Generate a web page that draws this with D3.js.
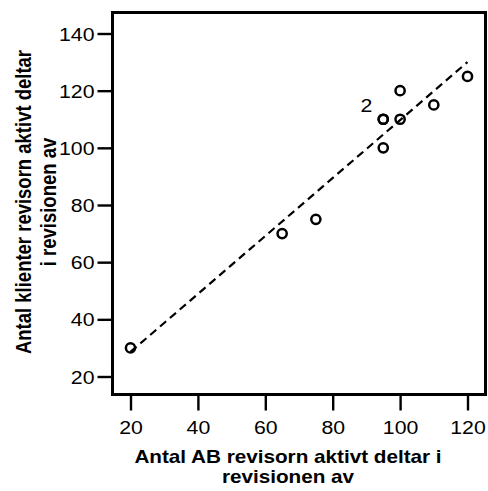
<!DOCTYPE html>
<html>
<head>
<meta charset="utf-8">
<script src="https://cdn.jsdelivr.net/npm/d3@7"></script>
<style>
  body { margin: 0; background: #fff; }
  text { font-family: "Liberation Sans", Arial, sans-serif; fill: #000; }
</style>
</head>
<body>
<div id="chart"></div>
<script>
// data
var abRevisor = [20, 65, 75, 95, 95, 95, 100, 100, 110, 120];
var klienter  = [30, 70, 75, 100, 110, 110, 110, 120, 115, 125];
var fitX = [20, 120];
var fitY = [28.6, 130];
var xTicks = [20, 40, 60, 80, 100, 120];
var yTicks = [20, 40, 60, 80, 100, 120, 140];
// count label for the repeated point
var countLabel = {x: 95, y: 110, text: "2"};

var width = 488, height = 491;
var sx = 1.15; // the original text is a bit wide

var svg = d3.select("#chart")
  .append("svg")
    .attr("width", width)
    .attr("height", height);

var frame = {left: 112.5, right: 485.5, top: 12.5, bottom: 394.5};

var x = d3.scaleLinear()
  .domain([20, 120])
  .range([130.5, 467.5]);

var y = d3.scaleLinear()
  .domain([20, 140])
  .range([376.5, 33.5]);

// x axis
var xAxis = svg.append("g")
  .attr("transform", "translate(0," + frame.bottom + ")")
  .call(d3.axisBottom(x).tickValues(xTicks).tickSize(16).tickPadding(0).tickFormat(d3.format("d")));
xAxis.select(".domain").remove();
xAxis.selectAll("line").attr("stroke", "#000").attr("stroke-width", 2.4);
xAxis.selectAll("text")
  .attr("y", null).attr("dy", null)
  .attr("transform", "translate(0,39) scale(" + sx + ",1)")
  .style("font-size", "18.5px");

// y axis
var yAxis = svg.append("g")
  .attr("transform", "translate(" + frame.left + ",0)")
  .call(d3.axisLeft(y).tickValues(yTicks).tickSize(15).tickPadding(0).tickFormat(d3.format("d")));
yAxis.select(".domain").remove();
yAxis.selectAll("line").attr("stroke", "#000").attr("stroke-width", 2.4);
yAxis.selectAll("text")
  .attr("x", null).attr("dy", null)
  .attr("transform", "translate(-18,6.5) scale(" + sx + ",1)")
  .style("font-size", "18.5px");

// frame
svg.append("rect")
  .attr("x", frame.left)
  .attr("y", frame.top)
  .attr("width", frame.right - frame.left)
  .attr("height", frame.bottom - frame.top)
  .attr("fill", "none")
  .attr("stroke", "#000")
  .attr("stroke-width", 3);

// fit line
svg.append("line")
  .attr("x1", x(fitX[0])).attr("y1", y(fitY[0]))
  .attr("x2", x(fitX[1])).attr("y2", y(fitY[1]))
  .attr("stroke", "#000")
  .attr("stroke-width", 2.2)
  .attr("stroke-dasharray", "8,5");

// points
svg.selectAll("circle.pt")
  .data(abRevisor)
  .enter()
  .append("circle")
    .attr("class", "pt")
    .attr("cx", function(d) { return x(d); })
    .attr("cy", function(d, i) { return y(klienter[i]); })
    .attr("r", 4.6)
    .attr("fill", "none")
    .attr("stroke", "#000")
    .attr("stroke-width", 2.5);

svg.append("text")
  .attr("transform", "translate(" + (x(countLabel.x) - 11) + "," + (y(countLabel.y) - 7) + ") scale(" + sx + ",1)")
  .attr("text-anchor", "end")
  .style("font-size", "18.5px")
  .text(countLabel.text);

// axis titles
var xTitle = ["Antal AB revisorn aktivt deltar i", "revisionen av"];
svg.selectAll("text.xt")
  .data(xTitle)
  .enter()
  .append("text")
    .attr("class", "xt")
    .attr("transform", function(d, i) { return "translate(288," + (463 + i * 20) + ") scale(" + sx + ",1)"; })
    .attr("text-anchor", "middle")
    .style("font-size", "18px")
    .style("font-weight", "bold")
    .text(function(d) { return d; });

var yTitle = ["Antal klienter revisorn aktivt deltar", "i revisionen av"];
svg.selectAll("text.yt")
  .data(yTitle)
  .enter()
  .append("text")
    .attr("class", "yt")
    .attr("transform", function(d, i) { return "translate(" + (31 + i * 25) + ",202) scale(" + sx + ",1) rotate(-90)"; })
    .attr("text-anchor", "middle")
    .style("font-size", "18.5px")
    .style("font-weight", "bold")
    .text(function(d) { return d; });
</script>
</body>
</html>
